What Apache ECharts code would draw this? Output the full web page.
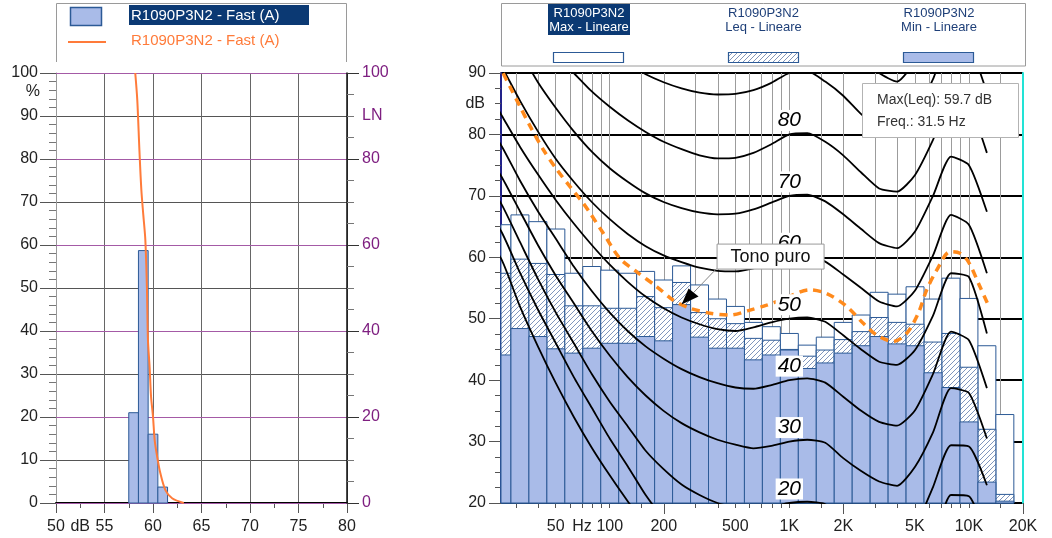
<!DOCTYPE html>
<html>
<head>
<meta charset="utf-8">
<script src="https://cdn.jsdelivr.net/npm/echarts@6/dist/echarts.min.js"></script>
<style>
  html, body { margin: 0; padding: 0; background: #fff; }
  #chart { width: 1052px; height: 538px; }
</style>
</head>
<body>
<div id="chart"></div>
<script>
// ---------- Level distribution (Fast, A-weighted) ----------
const histLow  = [57.5, 58.5, 59.5, 60.5];
const histHigh = [58.5, 59.5, 60.5, 61.5];
const histPct  = [21.0, 58.7, 16.0, 3.7];

// Cumulative LN curve: level (dB) vs. percentage exceeded
const lnLevel = [58.17, 58.38, 58.6, 58.8, 59.0, 59.21, 59.38, 59.48, 59.65, 59.8, 60.0, 60.17, 60.42, 60.76, 61.28, 61.97, 63.17];
const lnPct   = [100, 93.7, 82, 72.8, 67, 61.2, 49.5, 37.9, 31.7, 24.7, 20.1, 14.7, 10.9, 6.9, 3.0, 1.1, 0];

const distTickLabels = [50, 52.5, 55, 60, 65, 70, 75, 80];

// ---------- 1/3 octave spectrum (linear) ----------
const bandFreq = [25, 31.5, 40, 50, 63, 80, 100, 125, 160, 200, 250, 315, 400, 500, 630, 800,
                  1000, 1250, 1600, 2000, 2500, 3150, 4000, 5000, 6300, 8000, 10000, 12500, 16000];
const maxLin = [65.3, 66.9, 65.8, 64.6, 57.4, 58.5, 57.9, 57.4, 57.7, 56.3, 58.6, 55.5, 53.2, 52.0, 49.4, 48.7,
                47.6, 45.7, 47.0, 49.4, 50.6, 54.3, 54.0, 55.2, 53.2, 56.6, 53.3, 45.6, 34.4];
const leqLin = [57.4, 59.7, 59.0, 57.2, 52.1, 52.1, 51.7, 51.7, 53.6, 51.8, 55.9, 51.0, 50.0, 49.2, 46.8, 46.5,
                45.0, 43.9, 44.9, 46.6, 47.9, 50.2, 49.4, 49.1, 46.2, 47.6, 42.1, 32.0, 21.4];
const minLin = [44.1, 48.4, 47.1, 45.1, 44.4, 45.2, 46.0, 46.0, 47.1, 46.4, 52.3, 47.0, 45.2, 45.2, 43.3, 44.1,
                44.9, 41.9, 42.8, 44.4, 45.6, 47.1, 45.9, 45.6, 41.2, 38.8, 33.2, 23.4, 20.3];

// Equal-loudness contours (phon), sampled at 1/3 octave frequencies
const contourFreq = [20, 25, 31.5, 40, 50, 63, 80, 100, 125, 160, 200, 250, 315, 400, 500, 630, 800,
                     1000, 1250, 1600, 2000, 2500, 3150, 4000, 5000, 6300, 8000, 10000, 12500];
const phon0   = [64, 59.5, 52, 45.5, 39.5, 34, 29, 24.5, 20.3, 16.5, 13, 10, 7.5, 5.5, 3.8, 2.5, 1.2, 0, 0.3, -0.2, -2.5, -4.5, -6.7, -7, -4, 3, 11.3, 11.1, 4];
const phon10  = [68.5, 64, 57.5, 51.5, 46, 40.5, 35.5, 30.5, 26, 21.3, 17.5, 14.5, 12.3, 10.8, 10, 9.3, 9.5, 10, 10.3, 9.8, 7.5, 5.5, 3.3, 3, 6, 13, 21.3, 21.1, 14];
const phon20  = [73, 68.5, 62.5, 56.5, 51, 46, 41, 36.5, 32.5, 28.5, 25.5, 23, 21.3, 20, 19.3, 19, 19.4, 20, 20.2, 19.8, 17.5, 15.5, 13.3, 12.8, 16, 22.6, 29.4, 29.2, 22.9];
const phon30  = [77.5, 73, 67.5, 62, 57, 52.5, 48, 44, 40.5, 37.5, 35, 33, 31.5, 30.3, 29.5, 28.9, 29.3, 30, 30.3, 29.8, 27.3, 25.2, 23.5, 22.8, 25.9, 31.5, 38.7, 37.9, 30.5];
const phon40  = [82.5, 78, 72.5, 67.5, 63, 58.5, 54.5, 51, 48, 45.5, 43.5, 41.8, 40.5, 39.5, 38.8, 38.6, 39.2, 40, 40.3, 39.6, 37.3, 35, 33.2, 32.6, 35.1, 41, 47.9, 46.5, 38.7];
const phon50  = [88, 83, 78, 73.5, 69.3, 65.5, 62, 58.8, 56, 53.6, 51.7, 50.2, 49.1, 48.3, 48, 48.6, 49.4, 50, 50.2, 49.5, 47.3, 45, 43, 42.5, 44.9, 50.5, 57.4, 56.8, 47.6];
const phon60  = [96, 91, 85.5, 80.5, 76, 72.3, 69, 66.2, 63.8, 61.8, 60.3, 59.2, 58.3, 57.8, 57.7, 58.2, 59.1, 60, 60.2, 59.3, 57.2, 55, 52.8, 52, 54.6, 60.3, 66.9, 65.3, 57.4];
const phon70  = [103, 98, 93.5, 88.5, 84.3, 80.5, 77.2, 74.5, 72.3, 70.4, 69, 68, 67.3, 67, 67.1, 67.8, 68.9, 70, 70.2, 69.1, 67, 64.6, 62.3, 61.5, 64.2, 70, 76.4, 75, 67.4];
const phon80  = [110, 105, 100.5, 96.5, 93, 90, 87, 84.5, 82.3, 80.4, 78.8, 77.6, 76.6, 76.1, 76.2, 77, 78.4, 80, 80.2, 78.8, 76.6, 73.8, 71.2, 70.7, 73.4, 79.1, 86, 84.8, 77];
const phon90  = [117, 112, 108, 104.5, 101, 98, 95.5, 93.3, 91.5, 89.8, 88.5, 87.5, 86.8, 86.5, 86.6, 87.2, 88.4, 90, 90.3, 88.6, 86.3, 83.3, 81, 80.3, 83, 89, 95.6, 94.5, 86.8];
const phon100 = [124, 119, 115, 112, 109, 106.5, 104, 102, 100.5, 99.2, 98, 97, 96.3, 96, 96.1, 96.8, 98.2, 100, 100.3, 98.5, 96, 93, 90, 88.6, 92, 98.5, 105, 104, 96];
const phonCurves = [phon0, phon10, phon20, phon30, phon40, phon50, phon60, phon70, phon80, phon90, phon100];
const phonLabels = [20, 30, 40, 50, 60, 70, 80];

// Tonal-component trace (dashed)
const toneFreq = [25.5, 27.8, 31.7, 36.1, 42.7, 50.7, 60.1, 71.2, 77.7, 92.1, 114, 141, 183, 226, 280, 362, 467, 604, 748, 887,
                  1303, 1614, 2087, 2581, 3064, 3792, 4502, 5224, 5819, 6615, 7846, 8917, 9918, 11527, 12818];
const toneDb   = [89.95, 87.8, 84.5, 81.3, 77.5, 74.3, 71.5, 68.8, 67.2, 63.9, 59.8, 57.65, 55.2, 53.0, 51.7, 50.9, 50.6, 51.4, 52.2, 53.0,
                  54.7, 54.1, 52.0, 49.25, 47.35, 46.3, 47.6, 50.9, 54.7, 57.9, 60.9, 60.65, 59.3, 55.2, 52.2];
const tonalBand = 250;

// Frequency axis ticks and labels
const freqTicks = [30, 40, 50, 60, 70, 80, 90, 100, 150, 200, 300, 400, 500, 600, 700, 800, 900,
                   1000, 1500, 2000, 3000, 4000, 5000, 6000, 7000, 8000, 9000, 10000, 15000, 20000];
const freqMajorTicks = [200, 2000, 20000];
const freqLabelVals = [50, 70, 100, 200, 500, 1000, 2000, 5000, 10000, 20000];
const freqLabelText = ['50', 'Hz', '100', '200', '500', '1K', '2K', '5K', '10K', '20K'];

// ---------- helpers & styles ----------
const FONT = '"Liberation Sans", Arial, sans-serif';
const lg = f => Math.log10(f);
const bandPos = f => Math.round(10 * Math.log10(f)) / 10;   // exact 1/3-octave centre (log10)
const HALF_BAND = 0.05;
const X_MIN = 1.3946, X_MAX = lg(20000);

const minFill = '#a9bbe8';
const barStroke = '#2c5a96';
const lnColor = '#ff7b3a';
const toneColor = '#ff8a1c';
const navy = '#0b3973';
const purple = '#7e1f80';

// diagonal hatch used for the Leq bars
const hatch = document.createElement('canvas');
hatch.width = 5; hatch.height = 5;
(function () {
  const c = hatch.getContext('2d');
  c.fillStyle = '#fff'; c.fillRect(0, 0, 5, 5);
  c.strokeStyle = '#8096bd'; c.lineWidth = 1;
  c.beginPath();
  c.moveTo(-1, 6); c.lineTo(6, -1);
  c.moveTo(-1, 1); c.lineTo(1, -1);
  c.moveTo(4, 6); c.lineTo(6, 4);
  c.stroke();
})();

function bandSeries(values, fill, z) {
  return {
    type: 'custom', coordinateSystem: 'cartesian2d', xAxisIndex: 1, yAxisIndex: 2, z: z, silent: true,
    data: bandFreq.map((f, i) => [bandPos(f), values[i]]),
    encode: { x: 0, y: 1 },
    renderItem: function (params, api) {
      const c = api.value(0), v = api.value(1);
      const a = api.coord([c - HALF_BAND, v]);
      const b = api.coord([c + HALF_BAND, 20]);
      const cs = params.coordSys;
      const shape = echarts.graphic.clipRectByRect(
        { x: a[0], y: a[1], width: b[0] - a[0], height: b[1] - a[1] },
        { x: cs.x, y: cs.y, width: cs.width, height: cs.height });
      if (!shape) return null;
      return { type: 'rect', shape: shape, style: { fill: fill, stroke: barStroke, lineWidth: 1 } };
    }
  };
}

const peakIdx = leqLin.indexOf(Math.max.apply(null, leqLin));
const infoLines = ['Max(Leq): ' + leqLin[peakIdx].toFixed(1) + ' dB', 'Freq.: ' + bandFreq[peakIdx] + ' Hz'];

// ---------- series ----------
const series = [];

// histogram
series.push({
  type: 'custom', coordinateSystem: 'cartesian2d', xAxisIndex: 0, yAxisIndex: 0, z: 3, silent: true,
  data: histPct.map((p, i) => [histLow[i], histHigh[i], p]),
  encode: { x: [0, 1], y: 2 },
  renderItem: function (params, api) {
    const a = api.coord([api.value(0), api.value(2)]);
    const b = api.coord([api.value(1), 0]);
    return { type: 'rect', shape: { x: a[0], y: a[1], width: b[0] - a[0], height: b[1] - a[1] },
             style: { fill: minFill, stroke: barStroke, lineWidth: 1 } };
  }
});
// LN curve
series.push({
  type: 'line', xAxisIndex: 0, yAxisIndex: 1, z: 4, silent: true, symbol: 'none', smooth: 0.3,
  data: lnLevel.map((l, i) => [l, lnPct[i]]),
  lineStyle: { color: lnColor, width: 2 }
});

// spectrum bars: max, Leq, min
series.push(bandSeries(maxLin, '#ffffff', 2));
series.push(bandSeries(leqLin, { image: hatch, repeat: 'repeat' }, 2.1));
series.push(bandSeries(minLin, minFill, 2.2));

// loudness contours
phonCurves.forEach(function (curve) {
  series.push({
    type: 'line', xAxisIndex: 1, yAxisIndex: 2, z: 4, silent: true, symbol: 'none', smooth: 0.2,
    data: contourFreq.map((f, i) => [bandPos(f), curve[i]]),
    lineStyle: { color: '#000', width: 1.8 }
  });
});

// tonal trace
series.push({
  type: 'line', xAxisIndex: 1, yAxisIndex: 2, z: 5, silent: true, symbol: 'none', smooth: 0.3,
  data: toneFreq.map((f, i) => [lg(f), toneDb[i]]),
  lineStyle: { color: toneColor, width: 3.5, type: [8, 6], cap: 'butt' }
});

// contour labels at 1 kHz (drawn just above each contour)
series.push({
  type: 'custom', coordinateSystem: 'cartesian2d', xAxisIndex: 1, yAxisIndex: 2, z: 6, silent: true,
  data: phonLabels.map(p => [3, p]),
  encode: { x: 0, y: 1 },
  renderItem: function (params, api) {
    const p = api.coord([api.value(0), api.value(1)]);
    return {
      type: 'text', x: p[0], y: p[1] - 14,
      style: {
        text: String(api.value(1)), font: 'italic 21px ' + FONT, fill: '#000',
        align: 'center', verticalAlign: 'middle', backgroundColor: '#fff', padding: [0, 2]
      }
    };
  }
});

// tonal component annotation
series.push({
  type: 'custom', coordinateSystem: 'cartesian2d', xAxisIndex: 1, yAxisIndex: 2, z: 10, silent: true,
  data: [[bandPos(tonalBand), minLin[bandFreq.indexOf(tonalBand)]]],
  encode: { x: 0, y: 1 },
  renderItem: function (params, api) {
    const p = api.coord([api.value(0), api.value(1)]);
    const bx = p[0] + 35, by = p[1] - 61;
    return {
      type: 'group', children: [
        { type: 'line', shape: { x1: p[0] + 12, y1: p[1] - 12, x2: bx, y2: by + 25 }, style: { stroke: '#888', lineWidth: 1 } },
        { type: 'polygon', shape: { points: [[p[0], p[1]], [p[0] + 7, p[1] - 16], [p[0] + 17, p[1] - 8]] }, style: { fill: '#000' } },
        { type: 'rect', shape: { x: bx + 0.5, y: by + 0.5, width: 107, height: 25 }, style: { fill: '#fff', stroke: '#999', lineWidth: 1 } },
        { type: 'text', x: bx + 54, y: by + 13, style: { text: 'Tono puro', font: '18px ' + FONT, fill: '#111', align: 'center', verticalAlign: 'middle' } }
      ]
    };
  }
});

// ---------- legends / boxes ----------
const graphic = [
  // left legend
  { type: 'polyline', shape: { points: [[56.5, 62], [56.5, 3.5], [346.5, 3.5], [346.5, 62]] }, style: { stroke: '#9a9a9a', fill: null, lineWidth: 1 } },
  { type: 'rect', shape: { x: 70.5, y: 7.5, width: 31, height: 18 }, style: { fill: minFill, stroke: barStroke, lineWidth: 1.5 } },
  { type: 'rect', shape: { x: 129, y: 5, width: 180, height: 20 }, style: { fill: navy } },
  { type: 'text', x: 131, y: 15.5, style: { text: 'R1090P3N2 - Fast (A)', font: '15px ' + FONT, fill: '#fff', verticalAlign: 'middle' } },
  { type: 'line', shape: { x1: 68, y1: 42, x2: 106, y2: 42 }, style: { stroke: lnColor, lineWidth: 2 } },
  { type: 'text', x: 131, y: 41, style: { text: 'R1090P3N2 - Fast (A)', font: '15px ' + FONT, fill: lnColor, verticalAlign: 'middle' } },

  // right legend
  { type: 'rect', shape: { x: 501.5, y: 3.5, width: 524, height: 62.5 }, style: { fill: null, stroke: '#9a9a9a', lineWidth: 1 } },
  { type: 'rect', shape: { x: 548, y: 4, width: 82, height: 31 }, style: { fill: navy } },
  { type: 'text', x: 589, y: 13, style: { text: 'R1090P3N2', font: '13px ' + FONT, fill: '#fff', align: 'center', verticalAlign: 'middle' } },
  { type: 'text', x: 589, y: 27.5, style: { text: 'Max - Lineare', font: '13px ' + FONT, fill: '#fff', align: 'center', verticalAlign: 'middle' } },
  { type: 'text', x: 763.5, y: 13, style: { text: 'R1090P3N2', font: '13px ' + FONT, fill: '#1e3f78', align: 'center', verticalAlign: 'middle', backgroundColor: '#fff', padding: [2, 2] } },
  { type: 'text', x: 763.5, y: 27.5, style: { text: 'Leq - Lineare', font: '13px ' + FONT, fill: '#1e3f78', align: 'center', verticalAlign: 'middle' } },
  { type: 'text', x: 939, y: 13, style: { text: 'R1090P3N2', font: '13px ' + FONT, fill: '#1e3f78', align: 'center', verticalAlign: 'middle', backgroundColor: '#fff', padding: [2, 2] } },
  { type: 'text', x: 939, y: 27.5, style: { text: 'Min - Lineare', font: '13px ' + FONT, fill: '#1e3f78', align: 'center', verticalAlign: 'middle' } },
  { type: 'rect', shape: { x: 553.5, y: 52.5, width: 70, height: 10 }, style: { fill: '#fff', stroke: barStroke, lineWidth: 1.2 } },
  { type: 'rect', shape: { x: 728.5, y: 52.5, width: 70, height: 10 }, style: { fill: { image: hatch, repeat: 'repeat' }, stroke: barStroke, lineWidth: 1.2 } },
  { type: 'rect', shape: { x: 903.5, y: 52.5, width: 70, height: 10 }, style: { fill: minFill, stroke: barStroke, lineWidth: 1.2 } },

  // axis units
  { type: 'text', x: 40, y: 92, style: { text: '%', font: '16px ' + FONT, fill: '#222', align: 'right', verticalAlign: 'middle' } },
  { type: 'text', x: 362, y: 116, style: { text: 'LN', font: '16px ' + FONT, fill: purple, verticalAlign: 'middle' } },
  { type: 'text', x: 485, y: 104, style: { text: 'dB', font: '16px ' + FONT, fill: '#222', align: 'right', verticalAlign: 'middle' } },

  // peak info box
  { type: 'rect', z: 20, shape: { x: 862.5, y: 83.5, width: 156, height: 54 }, style: { fill: '#fff', stroke: '#b3b3b3', lineWidth: 1 } },
  { type: 'text', z: 21, x: 877, y: 100, style: { text: infoLines[0], font: '14px ' + FONT, fill: '#333', verticalAlign: 'middle' } },
  { type: 'text', z: 21, x: 877, y: 122, style: { text: infoLines[1], font: '14px ' + FONT, fill: '#333', verticalAlign: 'middle' } }
];

// ---------- option ----------
const axisFont = { fontFamily: FONT, fontSize: 16, color: '#222' };

const option = {
  animation: false,
  backgroundColor: '#fff',
  grid: [
    { left: 56, right: 705, top: 73, bottom: 35 },
    { left: 501, right: 29, top: 73, bottom: 35 }
  ],
  xAxis: [
    {
      type: 'value', gridIndex: 0, min: 50, max: 80, interval: 5,
      axisLine: { show: true, onZero: false, lineStyle: { color: '#000', width: 2 } },
      axisTick: { show: true, length: 10, lineStyle: { color: '#555' } },
      minorTick: { show: true, splitNumber: 2, length: 5, lineStyle: { color: '#555' } },
      axisLabel: Object.assign({ customValues: distTickLabels, margin: 16, hideOverlap: false,
        formatter: v => (v === 52.5 ? 'dB' : String(v)) }, axisFont),
      splitLine: { show: true, lineStyle: { color: '#666', width: 1 } }
    },
    {
      type: 'value', gridIndex: 1, min: X_MIN, max: X_MAX, position: 'bottom',
      axisLine: { show: false, onZero: false },
      axisTick: { show: true, customValues: freqTicks.map(lg), length: 5, lineStyle: { color: '#555' } },
      axisLabel: Object.assign({ customValues: freqLabelVals.map(lg), margin: 16, hideOverlap: false,
        formatter: function (v) {
          let k = 0;
          freqLabelVals.forEach((f, i) => { if (Math.abs(lg(f) - v) < Math.abs(lg(freqLabelVals[k]) - v)) k = i; });
          return freqLabelText[k];
        } }, axisFont),
      splitLine: { show: true, lineStyle: { color: '#9c9c9c', width: 1 } }
    },
    {
      type: 'value', gridIndex: 1, min: X_MIN, max: X_MAX, position: 'bottom', offset: 0,
      axisLine: { show: false, onZero: false },
      axisTick: { show: true, customValues: freqMajorTicks.map(lg), length: 11, lineStyle: { color: '#555' } },
      axisLabel: { show: false },
      splitLine: { show: false }
    }
  ],
  yAxis: [
    {
      type: 'value', gridIndex: 0, position: 'left', min: 0, max: 100, interval: 10, z: 0,
      axisLine: { show: true, onZero: false, lineStyle: { color: '#999', width: 1 } },
      axisTick: { show: true, length: 16, lineStyle: { color: '#555' } },
      minorTick: { show: true, splitNumber: 5, length: 7, lineStyle: { color: '#777' } },
      axisLabel: Object.assign({ margin: 18 }, axisFont),
      splitLine: { show: true, lineStyle: { color: '#555', width: 1 } }
    },
    {
      type: 'value', gridIndex: 0, position: 'right', min: 0, max: 100, interval: 20, z: 1,
      axisLine: { show: true, onZero: false, lineStyle: { color: '#111', width: 1.5 } },
      axisTick: { show: true, length: 12, lineStyle: { color: '#333' } },
      minorTick: { show: true, splitNumber: 4, length: 7, lineStyle: { color: '#777' } },
      axisLabel: { margin: 15, fontFamily: FONT, fontSize: 16, color: purple },
      splitLine: { show: true, lineStyle: { color: '#a45aa6', width: 1 } }
    },
    {
      type: 'value', gridIndex: 1, position: 'left', min: 20, max: 90, interval: 10,
      axisLine: { show: true, onZero: false, lineStyle: { color: '#22228a', width: 2 } },
      axisTick: { show: true, length: 12, lineStyle: { color: '#555' } },
      minorTick: { show: true, splitNumber: 4, length: 6, lineStyle: { color: '#555' } },
      axisLabel: Object.assign({ margin: 15 }, axisFont),
      splitLine: { show: true, lineStyle: { color: '#000', width: 2 } }
    },
    {
      type: 'value', gridIndex: 1, position: 'right', min: 20, max: 90, interval: 10,
      axisLine: { show: true, onZero: false, lineStyle: { color: '#22e3d6', width: 2 } },
      axisTick: { show: false }, axisLabel: { show: false }, splitLine: { show: false }
    }
  ],
  series: series,
  graphic: graphic
};

const chart = echarts.init(document.getElementById('chart'), null, { renderer: 'canvas' });
chart.setOption(option);
</script>
</body>
</html>
